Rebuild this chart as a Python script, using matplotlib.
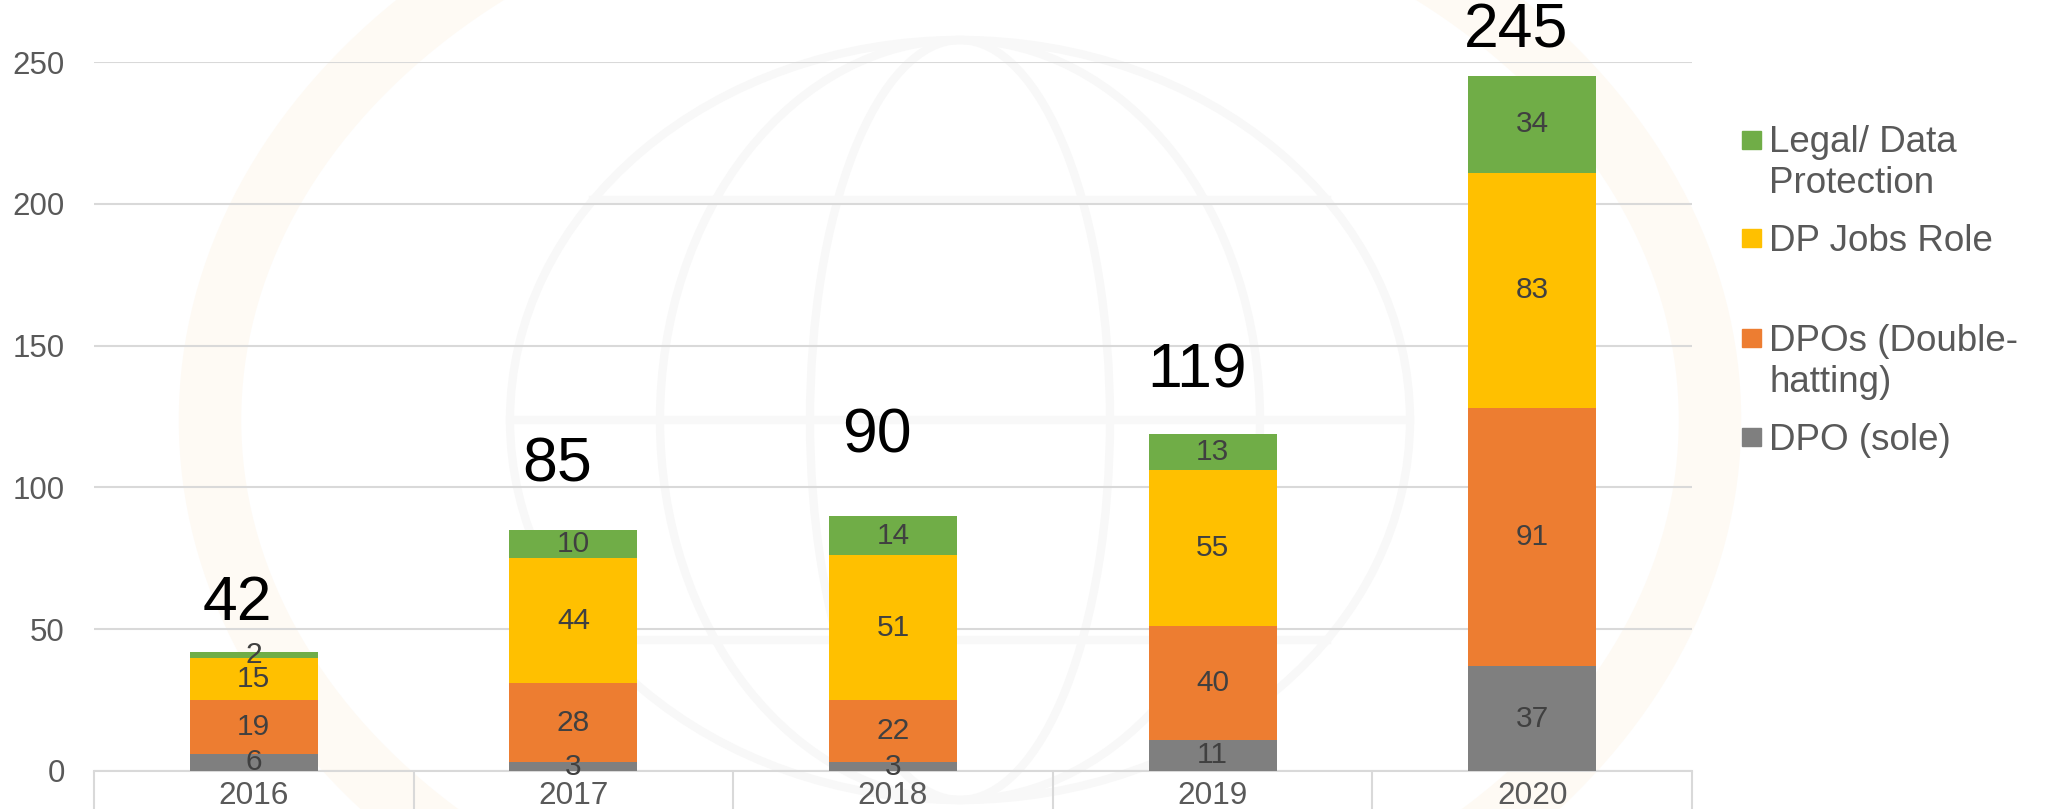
import matplotlib
matplotlib.use("Agg")
import matplotlib.pyplot as plt
import numpy as np
from matplotlib.patches import Rectangle, Ellipse

# data
years = ["2016", "2017", "2018", "2019", "2020"]
dpo_sole = [6, 3, 3, 11, 37]
dpo_double = [19, 28, 22, 40, 91]
dp_jobs = [15, 44, 51, 55, 83]
legal_dp = [2, 10, 14, 13, 34]

series_names = ["DPO (sole)", "DPOs (Double-\nhatting)", "DP Jobs Role", "Legal/ Data\nProtection"]
series_vals = [dpo_sole, dpo_double, dp_jobs, legal_dp]
series_colors = ["#7F7F7F", "#ED7D31", "#FFC000", "#70AD47"]

# the big total labels were hand-placed boxes; lift above bar top (data units)
total_lift = [17, 23, 28, 22, 16]

plt.rcParams["font.family"] = ["Liberation Sans", "DejaVu Sans"]

W, H = 2046, 809
fig = plt.figure(figsize=(W / 100, H / 100), dpi=100)

# very faint watermark behind the chart (globe + warm ring)
bg = fig.add_axes([0, 0, 1, 1], zorder=0)
bg.set_xlim(0, W)
bg.set_ylim(H, 0)
bg.axis("off")
cx, cy = 960, 420
bg.add_patch(Ellipse((cx, cy), 1500, 1150, fill=False, ec="#FEFAF4", lw=45))
bg.add_patch(Ellipse((cx, cy), 900, 760, fill=False, ec="#F8F8F8", lw=6))
for w in [600, 300]:
    bg.add_patch(Ellipse((cx, cy), w, 760, fill=False, ec="#F8F8F8", lw=6))
for dy in [-220, 0, 220]:
    half = np.sqrt(max(0.0, 1 - (dy / 380) ** 2)) * 450
    bg.plot([cx - half, cx + half], [cy + dy, cy + dy], color="#F8F8F8", lw=6)

ax = fig.add_axes([94 / W, 1 - 771 / H, (1692 - 94) / W, (771 - 62) / H], zorder=1)
ax.patch.set_alpha(0)

x = np.arange(len(years))
bottom = np.zeros(len(years))
for vals, col in zip(series_vals, series_colors):
    vals = np.array(vals)
    ax.bar(x, vals, width=0.40, bottom=bottom, color=col, zorder=3)
    for xi, b, v in zip(x, bottom, vals):
        ax.text(xi, b + v / 2, str(v), ha="center", va="center",
                fontsize=21.5, color="#404040", zorder=4)
    bottom += vals

totals = bottom
for xi, t, lift in zip(x, totals, total_lift):
    ax.text(xi - 0.05, t + lift, str(int(t)), ha="center", va="center",
            fontsize=45, color="black", clip_on=False)

ax.set_xlim(-0.5, len(years) - 0.5)
ax.set_ylim(0, 250)
ax.set_yticks(np.arange(0, 251, 50))
ax.yaxis.grid(True, color="#D9D9D9", linewidth=1.5, zorder=0)
ax.set_axisbelow(True)

for s in ["top", "right", "left"]:
    ax.spines[s].set_visible(False)
ax.spines["bottom"].set_color("#D9D9D9")
ax.spines["bottom"].set_linewidth(1.5)

ax.set_xticks(x)
ax.set_xticklabels(years)
ax.set_xticks(np.arange(-0.5, len(years)), minor=True)
ax.tick_params(axis="x", which="major", length=0, pad=7, labelsize=22.7, labelcolor="#595959")
ax.tick_params(axis="x", which="minor", length=30, width=1.5, color="#D9D9D9")
ax.tick_params(axis="y", length=0, pad=21, labelsize=22.5, labelcolor="#595959")

# legend drawn by hand so markers sit on the first text line
leg_y = [437, 338, 238, 139.5]
for name, col, yy in zip(series_names, series_colors, leg_y):
    fig.patches.append(Rectangle((1742 / W, 1 - (yy + 9) / H), 19 / W, 18 / H,
                                 transform=fig.transFigure, color=col, zorder=2))
    fig.text(1769 / W, 1 - (yy - 14) / H, name, ha="left", va="top",
             fontsize=26.5, color="#595959", linespacing=1.22, zorder=2)

fig.savefig("out.png", dpi=100)
